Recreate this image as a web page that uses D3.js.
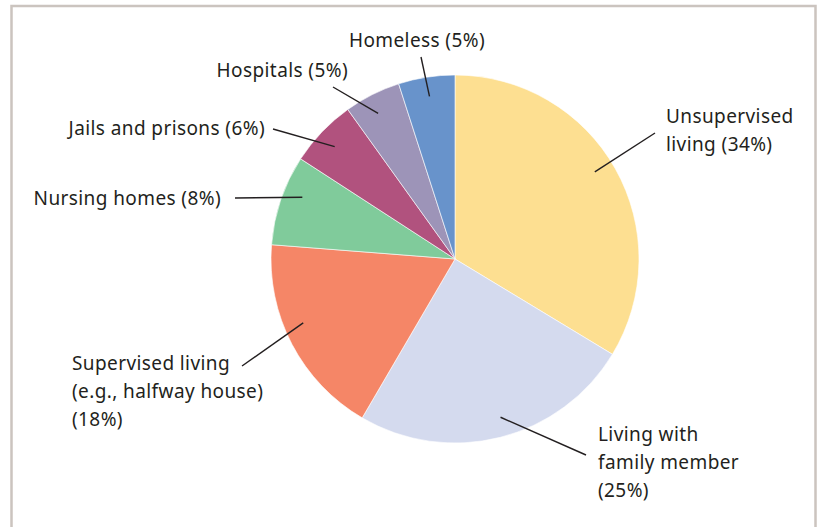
<!DOCTYPE html>
<meta charset="utf-8">
<title>Living situations pie</title>
<style>
  body { margin: 0; background: #fff; }
  text { font-family: "Noto Sans", sans-serif; fill: #231f20; }
</style>
<body>
<script src="https://d3js.org/d3.v7.min.js"></script>
<script>
// data, clockwise from 12 o'clock
const categories = ["Unsupervised living", "Living with family member", "Supervised living (e.g., halfway house)",
  "Nursing homes", "Jails and prisons", "Hospitals", "Homeless"];
const shares = [34, 25, 18, 8, 6, 5, 5];
const sliceColors = ["#fddf91", "#d4daee", "#f58667", "#80cb9b", "#b1527e", "#9d94b8", "#6893cb"];
const labelLines = [
  ["Unsupervised", "living (34%)"],
  ["Living with", "family member", "(25%)"],
  ["Supervised living", "(e.g., halfway house)", "(18%)"],
  ["Nursing homes (8%)"],
  ["Jails and prisons (6%)"],
  ["Hospitals (5%)"],
  ["Homeless (5%)"]
];

const W = 819, H = 527;
const cx = 455, cy = 259, R = 184;

// label placement: text anchor point, leader outer end, small angle nudge (deg)
const labelPos = [
  {x: 666, y: 123, anchor: "start", lx: 655, ly: 133, da: -2.5},
  {x: 598, y: 441, anchor: "start", lx: 586, ly: 455, da: -1.8},
  {x: 72,  y: 370, anchor: "start", lx: 242, ly: 366, da: 4.8},
  {x: 221, y: 205, anchor: "end",   lx: 235, ly: 198, da: 3.3},
  {x: 265, y: 135, anchor: "end",   lx: 273, ly: 129, da: -0.6},
  {x: 348, y: 77,  anchor: "end",   lx: 333, ly: 87,  da: -1.1},
  {x: 417, y: 47,  anchor: "middle", lx: 421, ly: 57, da: 0}
];

const svg = d3.select("body").append("svg")
  .attr("width", W).attr("height", H);

// frame
svg.append("path")
  .attr("d", `M11.5,${H} V6 H815.5 V${H}`)
  .attr("fill", "none")
  .attr("stroke", "#cbc4bf")
  .attr("stroke-width", 2.5);

const pie = d3.pie().sort(null).value(d => d)(shares);
const arc = d3.arc().innerRadius(0).outerRadius(R);

const g = svg.append("g").attr("transform", `translate(${cx},${cy})`);

g.selectAll("path.slice")
  .data(pie)
  .join("path")
  .attr("class", "slice")
  .attr("d", arc)
  .attr("fill", (d, i) => sliceColors[i])
  .attr("stroke", "#fff")
  .attr("stroke-width", 0.6);

// leader lines
g.selectAll("line.leader")
  .data(pie)
  .join("line")
  .attr("class", "leader")
  .each(function(d, i) {
    const p = labelPos[i];
    const a = (d.startAngle + d.endAngle) / 2 + p.da * Math.PI / 180;
    const r = R * 0.895;
    d3.select(this)
      .attr("x1", r * Math.sin(a)).attr("y1", -r * Math.cos(a))
      .attr("x2", p.lx - cx).attr("y2", p.ly - cy);
  })
  .attr("stroke", "#231f20")
  .attr("stroke-width", 1.4);

// labels
svg.selectAll("text.lbl")
  .data(labelLines)
  .join("text")
  .attr("class", "lbl")
  .attr("x", (d, i) => labelPos[i].x)
  .attr("y", (d, i) => labelPos[i].y)
  .attr("text-anchor", (d, i) => labelPos[i].anchor)
  .style("font-size", "19px")
  .style("letter-spacing", "0.4px")
  .selectAll("tspan")
  .data((d, i) => d.map(t => ({t, i})))
  .join("tspan")
  .attr("x", d => labelPos[d.i].x)
  .attr("dy", (d, j) => j === 0 ? 0 : 28)
  .text(d => d.t);
</script>
</body>
